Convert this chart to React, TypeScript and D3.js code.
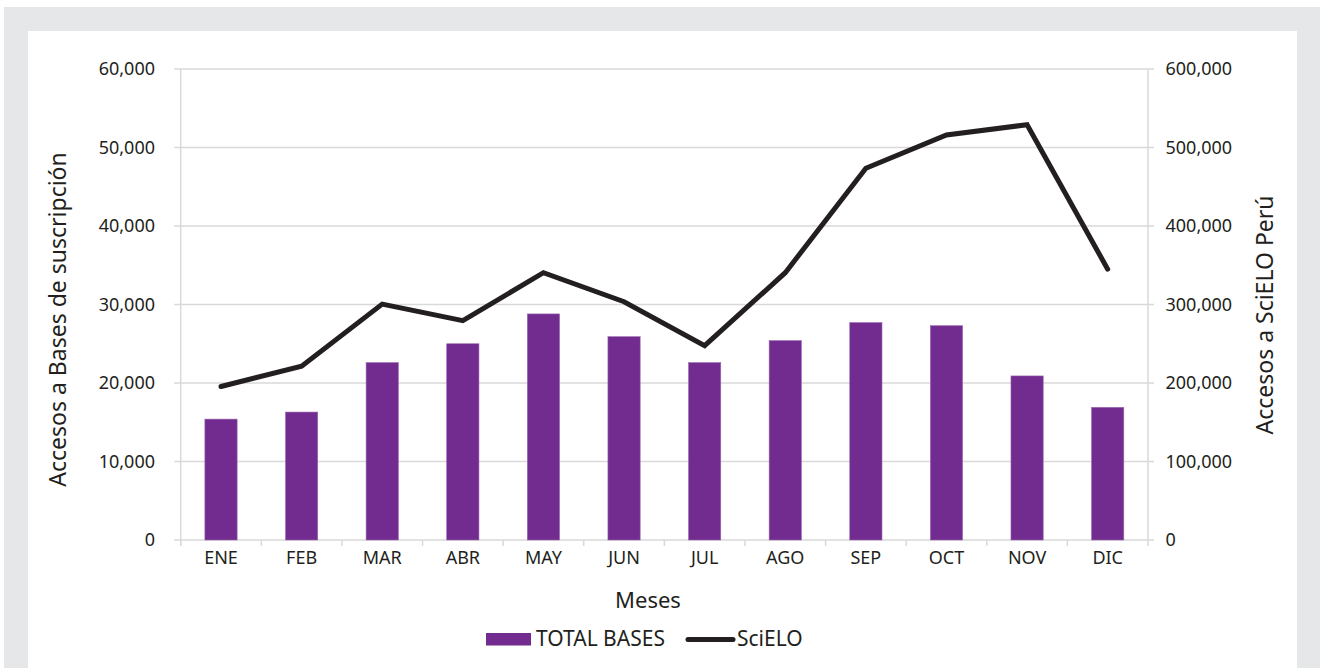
import React from "react";
import * as d3 from "d3";

const months = ["ENE", "FEB", "MAR", "ABR", "MAY", "JUN", "JUL", "AGO", "SEP", "OCT", "NOV", "DIC"];
const totalBases = [15400, 16300, 22600, 25000, 28800, 25900, 22600, 25400, 27700, 27300, 20900, 16900];
const scielo = [195500, 221500, 300500, 279500, 340500, 303500, 247500, 340500, 473500, 516000, 529000, 345000];
const leftTicks = [0, 10000, 20000, 30000, 40000, 50000, 60000];
const rightTicks = [0, 100000, 200000, 300000, 400000, 500000, 600000];

const W = 1320;
const H = 668;
const plot = { left: 180.7, right: 1148, top: 69, bottom: 540 };
const FONT = "'Noto Sans', 'Open Sans', sans-serif";
const TEXT = "#231f20";
const GRID = "#d9d9d9";
const BAR = "#722b8f";

export default function App() {
  const xb = d3.scaleBand<string>().domain(months).range([plot.left, plot.right]);
  const yL = d3.scaleLinear().domain([0, 60000]).range([plot.bottom, plot.top]);
  const yR = d3.scaleLinear().domain([0, 600000]).range([plot.bottom, plot.top]);
  const fmt = d3.format(",");
  const line = d3
    .line<number>()
    .x((_, i) => (xb(months[i]) as number) + xb.bandwidth() / 2)
    .y((d) => yR(d));

  return (
    <svg width={W} height={H} style={{ position: "absolute", left: 0, top: 0, display: "block" }} fontFamily={FONT}>
      <rect x={0} y={0} width={W} height={H} fill="#ffffff" />
      <rect x={4} y={7} width={W - 4} height={H - 7} fill="#e6e7e8" />
      <rect x={28} y={31} width={1297 - 28} height={H - 31} fill="#ffffff" />

      {leftTicks.map((t) => (
        <line key={"g" + t} x1={plot.left - 6.5} x2={plot.right + 6} y1={yL(t)} y2={yL(t)} stroke={GRID} strokeWidth={1.5} />
      ))}
      <line x1={plot.left} x2={plot.left} y1={plot.top} y2={plot.bottom + 6} stroke={GRID} strokeWidth={1.5} />
      <line x1={plot.right} x2={plot.right} y1={plot.top} y2={plot.bottom + 6} stroke={GRID} strokeWidth={1.5} />
      {months.map((m) => (
        <line key={"xt" + m} x1={xb(m)} x2={xb(m)} y1={plot.bottom} y2={plot.bottom + 6} stroke={GRID} strokeWidth={1.5} />
      ))}

      {totalBases.map((v, i) => (
        <rect
          key={"b" + i}
          x={(xb(months[i]) as number) + xb.bandwidth() * 0.3}
          width={xb.bandwidth() * 0.4}
          y={yL(v)}
          height={plot.bottom - yL(v)}
          fill={BAR}
          stroke="#9a6bb0"
          strokeWidth={0.6}
        />
      ))}

      <path d={line(scielo) || ""} fill="none" stroke={TEXT} strokeWidth={5} strokeLinecap="round" strokeLinejoin="miter" />

      {leftTicks.map((t) => (
        <text key={"lt" + t} x={155} y={yL(t)} dy="0.35em" textAnchor="end" fontSize={18} fill={TEXT}>
          {fmt(t)}
        </text>
      ))}
      {rightTicks.map((t) => (
        <text key={"rt" + t} x={1165.5} y={yR(t)} dy="0.35em" textAnchor="start" fontSize={18} fill={TEXT}>
          {fmt(t)}
        </text>
      ))}
      {months.map((m) => (
        <text key={"m" + m} x={(xb(m) as number) + xb.bandwidth() / 2} y={564} textAnchor="middle" fontSize={18} fill={TEXT}>
          {m}
        </text>
      ))}

      <text x={648} y={608} textAnchor="middle" fontSize={22} fill={TEXT}>
        Meses
      </text>
      <text transform="translate(66,319.5) rotate(-90)" textAnchor="middle" fontSize={23} fill={TEXT}>
        Accesos a Bases de suscripción
      </text>
      <text transform="translate(1273,315) rotate(-90)" textAnchor="middle" fontSize={23} fill={TEXT}>
        Accesos a SciELO Perú
      </text>

      <rect x={486} y={633} width={45} height={12.5} fill={BAR} />
      <text x={536} y={646} fontSize={21} fill={TEXT}>
        TOTAL BASES
      </text>
      <line x1={688} x2={733} y1={639.5} y2={639.5} stroke={TEXT} strokeWidth={5} strokeLinecap="round" />
      <text x={737} y={646} fontSize={21} fill={TEXT}>
        SciELO
      </text>
    </svg>
  );
}
